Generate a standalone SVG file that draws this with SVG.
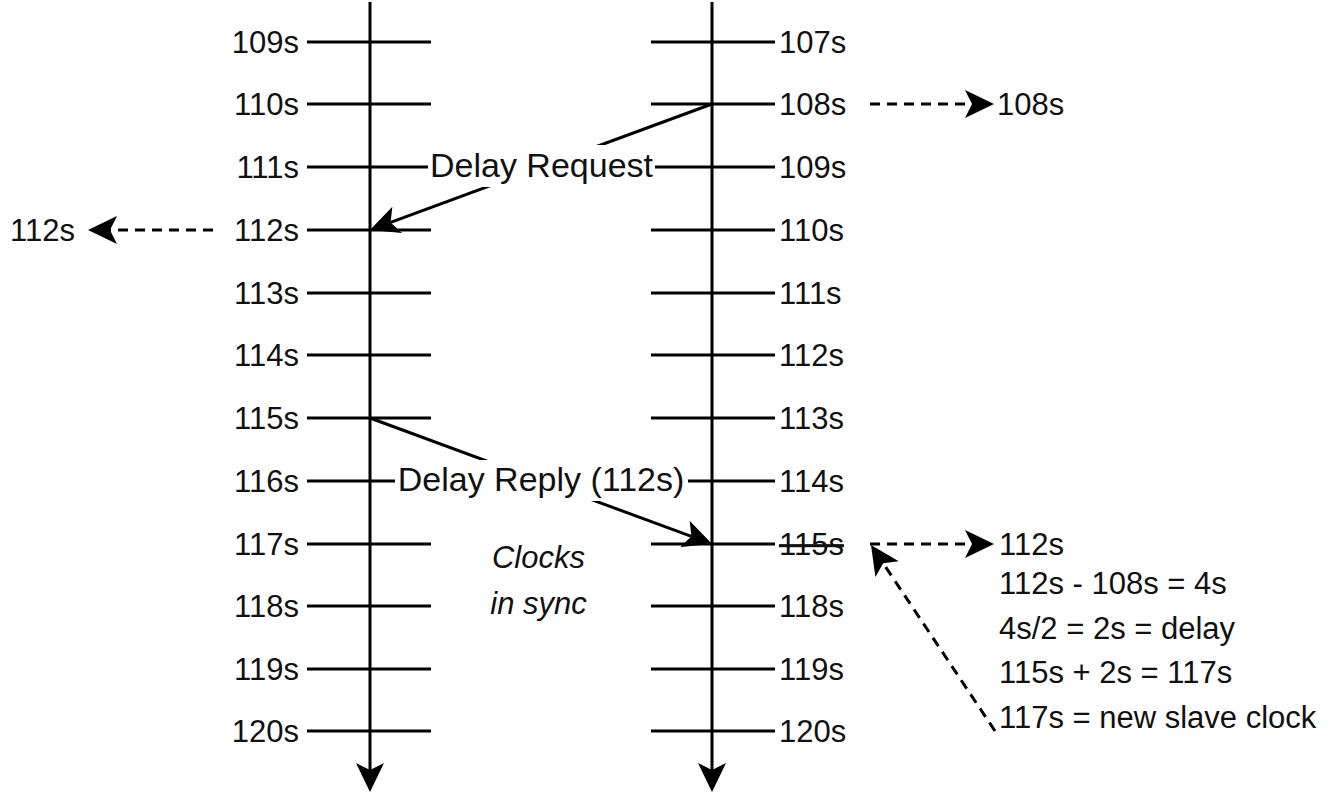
<svg xmlns="http://www.w3.org/2000/svg" width="1342" height="794" viewBox="0 0 1342 794">
  <style>
    .line { stroke: #000; stroke-width: 3; fill: none; }
    .dash { stroke: #000; stroke-width: 3; fill: none; stroke-dasharray: 10 7; }
    .t { font-family: "Liberation Sans", Arial, Helvetica, sans-serif; font-size: 31px; fill: #111; }
    .lbl { font-family: "Liberation Sans", Arial, Helvetica, sans-serif; font-size: 34px; fill: #111; text-anchor: middle; }
    .end { text-anchor: end; }
    .it { font-style: italic; text-anchor: middle; }
    .bg { fill: #fff; stroke: none; }
  </style>
  <defs>
    <marker id="arrow" markerUnits="userSpaceOnUse" viewBox="0 -15 30 30" markerWidth="30" markerHeight="30" refX="7" refY="0" orient="auto">
      <path d="M29,0 L0,-14 L7,0 L0,14 Z" fill="#000"/>
    </marker>
  </defs>

  <rect width="1342" height="794" fill="#fff"/>

  <!-- left clock timeline -->
  <g id="clock-left">
    <line class="line" x1="370" y1="2" x2="370" y2="770" marker-end="url(#arrow)"/>
    <g class="line">
      <line x1="307" y1="42" x2="431" y2="42"/>
      <line x1="307" y1="104" x2="431" y2="104"/>
      <line x1="307" y1="167" x2="431" y2="167"/>
      <line x1="307" y1="230" x2="431" y2="230"/>
      <line x1="307" y1="293" x2="431" y2="293"/>
      <line x1="307" y1="355" x2="431" y2="355"/>
      <line x1="307" y1="418" x2="431" y2="418"/>
      <line x1="307" y1="481" x2="431" y2="481"/>
      <line x1="307" y1="544" x2="431" y2="544"/>
      <line x1="307" y1="606" x2="431" y2="606"/>
      <line x1="307" y1="669" x2="431" y2="669"/>
      <line x1="307" y1="731" x2="431" y2="731"/>
    </g>
    <g class="t end">
      <text x="299" y="53">109s</text>
      <text x="299" y="115">110s</text>
      <text x="299" y="178">111s</text>
      <text x="299" y="241">112s</text>
      <text x="299" y="304">113s</text>
      <text x="299" y="366">114s</text>
      <text x="299" y="429">115s</text>
      <text x="299" y="492">116s</text>
      <text x="299" y="555">117s</text>
      <text x="299" y="617">118s</text>
      <text x="299" y="680">119s</text>
      <text x="299" y="742">120s</text>
    </g>
  </g>

  <!-- right clock timeline -->
  <g id="clock-right">
    <line class="line" x1="712" y1="2" x2="712" y2="770" marker-end="url(#arrow)"/>
    <g class="line">
      <line x1="651" y1="42" x2="775" y2="42"/>
      <line x1="651" y1="104" x2="775" y2="104"/>
      <line x1="651" y1="167" x2="775" y2="167"/>
      <line x1="651" y1="230" x2="775" y2="230"/>
      <line x1="651" y1="293" x2="775" y2="293"/>
      <line x1="651" y1="355" x2="775" y2="355"/>
      <line x1="651" y1="418" x2="775" y2="418"/>
      <line x1="651" y1="481" x2="775" y2="481"/>
      <line x1="651" y1="544" x2="775" y2="544"/>
      <line x1="651" y1="606" x2="775" y2="606"/>
      <line x1="651" y1="669" x2="775" y2="669"/>
      <line x1="651" y1="731" x2="775" y2="731"/>
    </g>
    <g class="t">
      <text x="779" y="53">107s</text>
      <text x="779" y="115">108s</text>
      <text x="779" y="178">109s</text>
      <text x="779" y="241">110s</text>
      <text x="779" y="304">111s</text>
      <text x="779" y="366">112s</text>
      <text x="779" y="429">113s</text>
      <text x="779" y="492">114s</text>
      <text x="779" y="555" text-decoration="line-through">115s</text>
      <text x="779" y="617">118s</text>
      <text x="779" y="680">119s</text>
      <text x="779" y="742">120s</text>
    </g>
  </g>

  <!-- messages and annotations -->
  <g id="connectors">
    <line class="line" x1="712" y1="104" x2="390.6" y2="222.4" marker-end="url(#arrow)"/>
    <line class="line" x1="370" y1="418" x2="691.4" y2="536.4" marker-end="url(#arrow)"/>
    <line class="dash" x1="870" y1="104" x2="972" y2="104" marker-end="url(#arrow)"/>
    <line class="dash" x1="213" y1="230" x2="110" y2="230" marker-end="url(#arrow)"/>
    <line class="dash" x1="870" y1="544" x2="972" y2="544" marker-end="url(#arrow)"/>
    <line class="dash" x1="995" y1="731" x2="883.2" y2="563.3" marker-end="url(#arrow)"/>
  </g>

  <g id="label-delay-request">
    <rect class="bg" x="428" y="145" width="227" height="42"/>
    <text class="lbl" x="541.5" y="177">Delay Request</text>
  </g>

  <g id="label-delay-reply">
    <rect class="bg" x="395" y="460" width="293" height="41"/>
    <text class="lbl" x="541" y="491">Delay Reply (112s)</text>
  </g>

  <g id="note-in-sync">
    <text class="t it" x="538.5" y="568">Clocks</text>
    <text class="t it" x="538.5" y="614">in sync</text>
  </g>

  <g id="note-108">
    <text class="t" x="997" y="115">108s</text>
  </g>

  <g id="note-112-left">
    <text class="t" x="10" y="241">112s</text>
  </g>

  <g id="note-calc">
    <text class="t" x="999" y="555">112s</text>
    <text class="t" x="999" y="594">112s - 108s = 4s</text>
    <text class="t" x="999" y="639">4s/2 = 2s = delay</text>
    <text class="t" x="999" y="683">115s + 2s = 117s</text>
    <text class="t" x="999" y="728">117s = new slave clock</text>
  </g>
</svg>
